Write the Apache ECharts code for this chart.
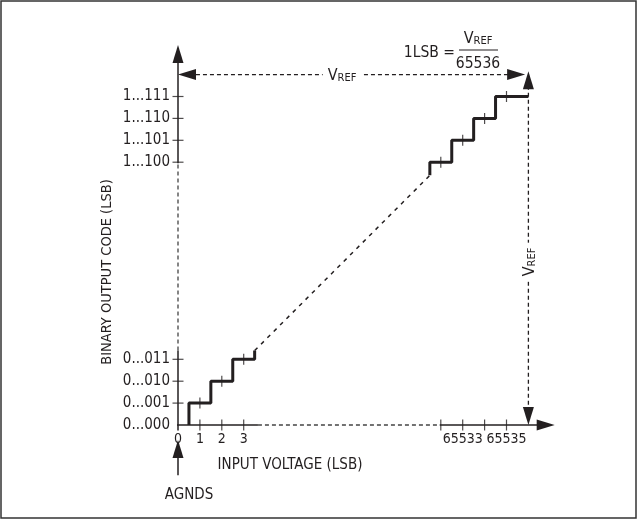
<!DOCTYPE html>
<html>
<head>
<meta charset="utf-8">
<script src="https://cdn.jsdelivr.net/npm/echarts@6/dist/echarts.min.js"></script>
<style>
  html, body { margin: 0; padding: 0; background: #fff; }
  #chart { width: 638px; height: 520px; }
</style>
</head>
<body>
<div id="chart"></div>
<script>
// axis ticks (input LSB / output code)
const xTickValues = [0, 1, 2, 3, 65532, 65533, 65534, 65535];
const xTickLabels = ['0', '1', '2', '3', '', '65533', '', '65535'];
const yTickValues = [0, 1, 2, 3, 65532, 65533, 65534, 65535];
const yTickLabels = ['0...000', '0...001', '0...010', '0...011', '1...100', '1...101', '1...110', '1...111'];
const vref = 65536;

// transfer function, [input LSB, output code]
const lowSteps = [[0.5, 0], [0.5, 1], [1.5, 1], [1.5, 2], [2.5, 2], [2.5, 3], [3.5, 3], [3.5, 3.4]];
const highSteps = [[65531.5, 65531.4], [65531.5, 65532], [65532.5, 65532], [65532.5, 65533],
  [65533.5, 65533], [65533.5, 65534], [65534.5, 65534], [65534.5, 65535], [65536, 65535]];
const gapLine = [[3.5, 3.4], [65531.5, 65531.4]];
const codeCentres = [1, 2, 3, 65532, 65533, 65534, 65535];

// broken axis: the top codes are pulled down next to the bottom ones
const SHIFT = 65520;
const brk = v => (v > 1000 ? v - SHIFT : v);
const pt = p => [brk(p[0]), brk(p[1])];

const ink = '#231f20';
const font = "'DejaVu Sans Condensed', 'Liberation Sans Narrow', sans-serif";

const xLabelMap = {};
xTickValues.forEach((v, i) => { xLabelMap[brk(v)] = xTickLabels[i]; });
const yLabelMap = {};
yTickValues.forEach((v, i) => { yLabelMap[brk(v)] = yTickLabels[i]; });

const V = brk(vref);

function seg(points, dashed, width, color) {
  return {
    type: 'line', data: points, symbol: 'none', clip: false, silent: true,
    lineStyle: { color: color || ink, width: width || 1.5, type: dashed ? dashed : 'solid' },
    z: 2
  };
}

function arrowItem(params, api) {
  const tip = api.coord([api.value(0), api.value(1)]);
  const a = api.value(2) * Math.PI / 180;
  const dx = Math.cos(a), dy = -Math.sin(a);
  const L = 18, W = 5.5;
  const bx = tip[0] - dx * L, by = tip[1] - dy * L;
  return {
    type: 'polygon',
    shape: { points: [tip, [bx - dy * W, by + dx * W], [bx + dy * W, by - dx * W]] },
    style: { fill: ink }
  };
}

const vrefRich = {
  v: { fontSize: 16, fontFamily: font, lineHeight: 18, verticalAlign: 'bottom' },
  s: { fontSize: 11, fontFamily: font, lineHeight: 10, verticalAlign: 'bottom' }
};

const chart = echarts.init(document.getElementById('chart'));

const option = {
  backgroundColor: '#fff',
  animation: false,
  grid: { left: 178, top: 41.75, width: 372.3, height: 383.25 },
  xAxis: {
    type: 'value', min: 0, max: 17, interval: 1,
    axisLine: { show: false }, axisTick: { show: false }, splitLine: { show: false },
    axisLabel: {
      margin: 7, color: ink, fontSize: 14, fontFamily: font,
      formatter: v => xLabelMap[v] || ''
    }
  },
  yAxis: {
    type: 'value', min: 0, max: 17.5, interval: 1,
    axisLine: { show: false }, axisTick: { show: false }, splitLine: { show: false },
    axisLabel: {
      margin: 8, color: ink, fontSize: 15, fontFamily: font,
      formatter: v => yLabelMap[v] || ''
    }
  },
  series: [
    // axes, drawn as pieces so the skipped range can be dashed
    seg([[-0.15, 0], [3.65, 0]]),
    seg([[3.65, 0], [11.95, 0]], [4, 3], 1.3, '#444'),
    seg([[11.95, 0], [16.9, 0]]),
    seg([[0, -0.25], [0, 3.4]]),
    seg([[0, 3.4], [0, 11.95]], [4, 3], 1.3, '#444'),
    seg([[0, 11.95], [0, 17.0]]),
    // VREF dimension lines
    seg([[0.5, V], [V - 0.6, V]], [4, 3], 1.3),
    seg([[V, 0.6], [V, V - 0.4]], [4, 3], 1.3),
    // AGNDS pointer
    seg([[0, -2.3], [0, -1.2]]),
    // transfer function
    seg(lowSteps.map(pt), null, 3),
    seg(highSteps.map(pt), null, 3),
    seg(gapLine.map(pt), [4, 5], 1.5),
    {
      type: 'scatter', silent: true, clip: false, z: 3,
      symbol: 'rect', symbolSize: [1.2, 11], itemStyle: { color: ink },
      data: codeCentres.map(c => [brk(c), brk(c)])
        .concat(xTickValues.filter(v => v !== 0).map(v => [brk(v), 0]))
    },
    {
      type: 'scatter', silent: true, clip: false, z: 3,
      symbol: 'rect', symbolSize: [11, 1.2], itemStyle: { color: ink },
      data: yTickValues.filter(v => v !== 0).map(v => [0, brk(v)])
    },
    {
      type: 'custom', renderItem: arrowItem, clip: false, silent: true, z: 4,
      dimensions: ['x', 'y', 'angle'], encode: { x: 0, y: 1 },
      data: [[0, 17.35, 90], [17.2, 0, 0], [0, V, 180], [V - 0.15, V, 0],
        [V, V + 0.15, 90], [V, 0, 270], [0, -0.68, 90]]
    }
  ],
  graphic: [
    { type: 'rect', shape: { x: 1, y: 1, width: 635, height: 517 }, style: { fill: 'none', stroke: '#333', lineWidth: 1.5 } },
    { type: 'text', x: 290, y: 465, style: { text: 'INPUT VOLTAGE (LSB)', font: '15px ' + font, fill: ink, align: 'center', verticalAlign: 'middle' } },
    { type: 'text', x: 107, y: 272, rotation: Math.PI / 2, style: { text: 'BINARY OUTPUT CODE (LSB)', font: '14.5px ' + font, fill: ink, align: 'center', verticalAlign: 'middle' } },
    { type: 'text', x: 189, y: 495, style: { text: 'AGNDS', font: '15px ' + font, fill: ink, align: 'center', verticalAlign: 'middle' } },
    { type: 'text', x: 455, y: 53, style: { text: '1LSB =', font: '15.5px ' + font, fill: ink, align: 'right', verticalAlign: 'middle' } },
    { type: 'text', x: 478, y: 38, style: { text: '{v|V}{s|REF}', fill: ink, align: 'center', verticalAlign: 'middle', rich: vrefRich } },
    { type: 'line', shape: { x1: 459, y1: 50, x2: 498, y2: 50 }, style: { stroke: ink, lineWidth: 1.2 } },
    { type: 'text', x: 478, y: 64, style: { text: '65536', font: '15.5px ' + font, fill: ink, align: 'center', verticalAlign: 'middle' } },
    {
      type: 'text', x: 342, y: 75, z: 10, style: {
        text: '{v|V}{s|REF}', fill: ink, align: 'center', verticalAlign: 'middle', backgroundColor: '#fff', padding: [2, 5], rich: vrefRich
      }
    },
    {
      type: 'text', x: 529, y: 262, z: 10, rotation: Math.PI / 2, style: {
        text: '{v|V}{s|REF}', fill: ink, align: 'center', verticalAlign: 'middle', backgroundColor: '#fff', padding: [2, 5], rich: vrefRich
      }
    }
  ]
};

chart.setOption(option);
</script>
</body>
</html>
